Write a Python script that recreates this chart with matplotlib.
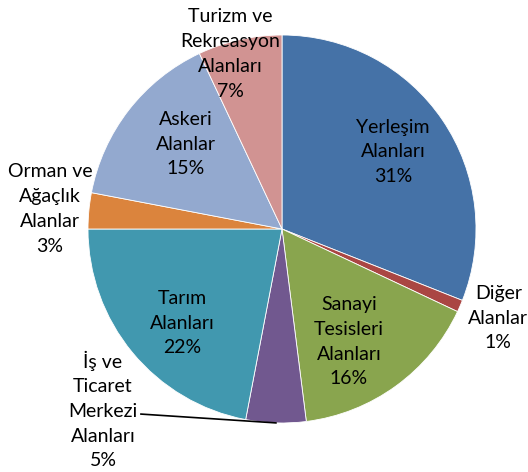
import numpy as np
import matplotlib.pyplot as plt

plt.rcParams['font.family'] = ['Lato', 'DejaVu Sans']

# data
labels = ['Yerleşim\nAlanları', 'Diğer\nAlanlar', 'Sanayi\nTesisleri\nAlanları',
          'İş ve\nTicaret\nMerkezi\nAlanları', 'Tarım\nAlanları',
          'Orman ve\nAğaçlık\nAlanlar', 'Askeri\nAlanlar', 'Turizm ve\nRekreasyon\nAlanları']
shares = [31, 1, 16, 5, 22, 3, 15, 7]
colors = ['#4572A7', '#AA4643', '#89A54E', '#71588F', '#4198AF', '#DB843D', '#93A9CF', '#D19392']

# label placement (in pie radius units)
label_pos = [(0.572, 0.397), (1.115, -0.459), (0.345, -0.582), (-0.923, -0.933),
             (-0.515, -0.485), (-1.196, 0.103), (-0.495, 0.438), (-0.268, 0.902)]

W, H = 528, 472
cx, cy, R = 282, 229, 194

fig = plt.figure(figsize=(W / 100, H / 100), dpi=100)
ax = fig.add_axes([0, 0, 1, 1])

wedges, _ = ax.pie(shares, colors=colors, startangle=90, counterclock=False,
                   radius=1, wedgeprops=dict(edgecolor='white', linewidth=0.6))

ax.set_aspect('auto')
ax.set_xlim(-cx / R, (W - cx) / R)
ax.set_ylim(-(H - cy) / R, cy / R)
ax.axis('off')

for lab, val, (x, y) in zip(labels, shares, label_pos):
    ax.text(x, y, f'{lab}\n{val}%', ha='center', va='center', fontsize=14,
            linespacing=1.55, color='black')

# leader line for the small "İş ve Ticaret" slice
w = wedges[3]
mid = np.deg2rad((w.theta1 + w.theta2) / 2)
ax.plot([-0.727, np.cos(mid)], [-0.954, np.sin(mid)], color='black', lw=1.2)

fig.savefig('out.png', dpi=100)
